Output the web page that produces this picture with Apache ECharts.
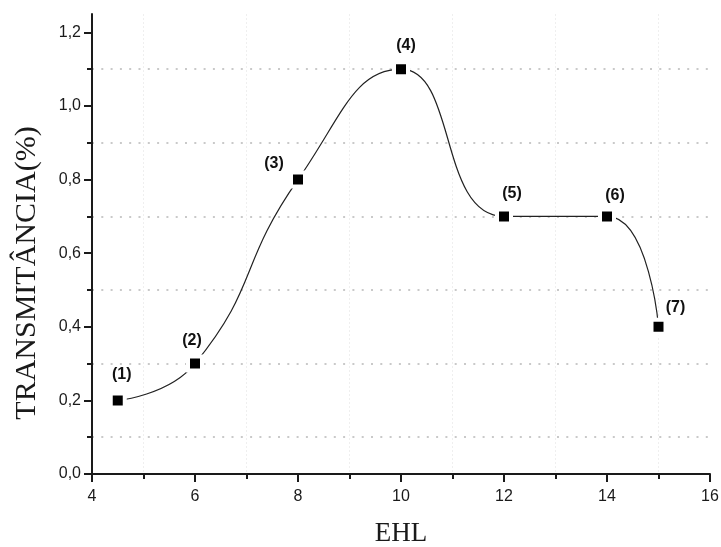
<!DOCTYPE html>
<html>
<head>
<meta charset="utf-8">
<script src="https://cdn.jsdelivr.net/npm/echarts@6/dist/echarts.min.js"></script>
<style>html,body{margin:0;padding:0;background:#fff}#c{width:721px;height:547px}</style>
</head>
<body>
<div id="c"></div>
<script>
const xValues = [4.5, 6, 8, 10, 12, 14, 15];
const yValues = [0.2, 0.3, 0.8, 1.1, 0.7, 0.7, 0.4];
const pointLabels = ['(1)', '(2)', '(3)', '(4)', '(5)', '(6)', '(7)'];
const yMajorTicks = [0, 0.2, 0.4, 0.6, 0.8, 1.0, 1.2];
const yMinorTicks = [0.1, 0.3, 0.5, 0.7, 0.9, 1.1];
const xAxisName = 'EHL';
const yAxisName = 'TRANSMITÂNCIA(%)';

const labelOffsets = [[4, -26], [-3, -23], [-24, -16], [5, -24], [8, -23], [8, -21], [17, -19]];

const chart = echarts.init(document.getElementById('c'), null, {renderer: 'canvas'});
const numFont = 'Liberation Sans, Arial, sans-serif';
const serif = 'Liberation Serif, Times New Roman, serif';
const axisColor = '#1a1a1a';
const fmt = v => (Math.round(v * 10) / 10).toFixed(1).replace('.', ',');

const seriesData = xValues.map((x, i) => ({
  value: [x, yValues[i]],
  label: {show: true, formatter: pointLabels[i], position: 'inside', offset: labelOffsets[i]}
}));

chart.setOption({
  animation: false,
  grid: {left: 92, right: 11, top: 14, bottom: 73, containLabel: false, outerBoundsMode: 'none'},
  xAxis: {
    type: 'value', min: 4, max: 16, interval: 2,
    name: xAxisName, nameLocation: 'middle', nameGap: 46,
    nameTextStyle: {fontFamily: serif, fontSize: 27, color: '#1a1a1a'},
    axisLine: {show: true, onZero: false, lineStyle: {color: axisColor, width: 2}},
    axisTick: {show: true, inside: false, length: 8, lineStyle: {color: axisColor, width: 2}},
    minorTick: {show: true, splitNumber: 2, length: 5, lineStyle: {color: axisColor, width: 2}},
    axisLabel: {margin: 15, fontFamily: numFont, fontSize: 16, color: '#1a1a1a'},
    splitLine: {show: false},
    minorSplitLine: {show: true, lineStyle: {color: '#efefef', width: 1, type: [2, 2]}}
  },
  yAxis: [{
    type: 'value', min: 0, max: 1.25,
    axisLine: {show: true, onZero: false, lineStyle: {color: axisColor, width: 2}},
    axisTick: {show: true, inside: false, length: 8, customValues: yMajorTicks, lineStyle: {color: axisColor, width: 2}},
    axisLabel: {customValues: yMajorTicks, margin: 11, fontFamily: numFont, fontSize: 16, color: '#1a1a1a', formatter: fmt},
    splitLine: {show: false}
  }, {
    type: 'value', min: 0, max: 1.25, position: 'left',
    axisLine: {show: false},
    axisTick: {show: true, inside: false, length: 5, customValues: yMinorTicks, lineStyle: {color: axisColor, width: 2}},
    axisLabel: {show: false},
    splitLine: {show: true, lineStyle: {color: '#b8b8b8', width: 1.5, type: [2, 7.3]}}
  }],
  graphic: [{
    type: 'text', x: 27, y: 273, rotation: Math.PI / 2,
    style: {text: yAxisName, font: '30px ' + serif, fill: '#1a1a1a', textAlign: 'center', textVerticalAlign: 'middle'}
  }],
  series: [{
    type: 'line', yAxisIndex: 0,
    data: seriesData,
    smooth: 0.5,
    symbol: 'rect', symbolSize: 14,
    itemStyle: {color: '#000', borderColor: '#fff', borderWidth: 4},
    lineStyle: {color: '#222', width: 1.2},
    label: {fontFamily: numFont, fontSize: 16, fontWeight: 'bold', color: '#111'},
    z: 5
  }]
});
</script>
</body>
</html>
